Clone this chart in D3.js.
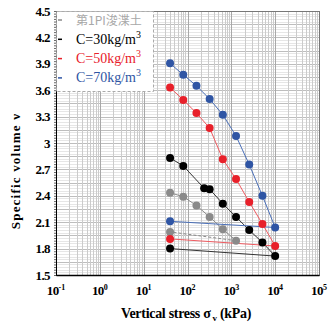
<!DOCTYPE html>
<html><head><meta charset="utf-8">
<script src="https://cdn.jsdelivr.net/npm/d3@7"></script>
<style>body{margin:0;background:#fff}svg{display:block}</style>
</head><body><svg id="c" width="329" height="329"></svg>
<script>
// ---- data ----
const seriesNames = ["第1PI浚渫土", "C=30kg/m", "C=50kg/m", "C=70kg/m"];
const seriesSup = ["", "3", "3", "3"];
const seriesColors = ["#8a8a8a", "#000000", "#e8202a", "#2f55a4"];
const textColors = ["#a8a8a8", "#000000", "#e8202a", "#2f55a4"];
const lineColors = ["#8a8a8a", "#333333", "#ee5a60", "#4a6fb8"];

const grayStress = [40, 80, 160, 320, 640, 1280];
const grayV = [2.435, 2.39, 2.29, 2.16, 2.02, 1.89];
const grayUnloadStress = [1280, 40];
const grayUnloadV = [1.89, 1.99];

const c30Stress = [40, 80, 240, 320, 640, 1280, 2560, 5120, 10000];
const c30V = [2.83, 2.74, 2.485, 2.475, 2.31, 2.16, 2.01, 1.87, 1.715];
const c30UnloadStress = [10000, 40];
const c30UnloadV = [1.715, 1.80];

const c50Stress = [40, 80, 160, 320, 640, 1280, 2560, 5120, 10000];
const c50V = [3.63, 3.49, 3.34, 3.17, 2.815, 2.59, 2.33, 2.08, 1.83];
const c50UnloadStress = [10000, 40];
const c50UnloadV = [1.83, 1.91];

const c70Stress = [40, 80, 160, 320, 640, 1280, 2560, 5120, 10000];
const c70V = [3.905, 3.775, 3.65, 3.50, 3.32, 3.08, 2.755, 2.40, 2.04];
const c70UnloadStress = [10000, 40];
const c70UnloadV = [2.04, 2.11];

const yTicks = [1.5, 1.8, 2.1, 2.4, 2.7, 3, 3.3, 3.6, 3.9, 4.2, 4.5];
const yTickLabels = ["1.5", "1.8", "2.1", "2.4", "2.7", "3", "3.3", "3.6", "3.9", "4.2", "4.5"];
const xTicks = [0.1, 1, 10, 100, 1000, 10000, 100000];
const xTickExps = ["-1", "0", "1", "2", "3", "4", "5"];

const series = [
  {load: grayStress.map((s, i) => [s, grayV[i]]), unload: grayUnloadStress.map((s, i) => [s, grayUnloadV[i]]), dash: "3,2"},
  {load: c30Stress.map((s, i) => [s, c30V[i]]), unload: c30UnloadStress.map((s, i) => [s, c30UnloadV[i]]), dash: null},
  {load: c50Stress.map((s, i) => [s, c50V[i]]), unload: c50UnloadStress.map((s, i) => [s, c50UnloadV[i]]), dash: null},
  {load: c70Stress.map((s, i) => [s, c70V[i]]), unload: c70UnloadStress.map((s, i) => [s, c70UnloadV[i]]), dash: null}
];

// ---- layout ----
const L = 56, R = 319, T = 11, B = 275;
const x = d3.scaleLog().domain([0.1, 1e5]).range([L, R]);
const y = d3.scaleLinear().domain([1.5, 4.5]).range([B, T]);
const svg = d3.select("#c");
const serif = "'Liberation Serif','Times New Roman',serif";

// grid
const g = svg.append("g");
const minorY = d3.range(0, 101).map(i => 1.5 + i * 0.03);
g.selectAll(".hy").data(minorY).join("line")
  .attr("x1", L).attr("x2", R).attr("y1", d => Math.round(y(d)) + 0.5).attr("y2", d => Math.round(y(d)) + 0.5)
  .attr("stroke", (d, i) => i % 5 === 0 ? "#bdbdbd" : "#e6e6e6").attr("stroke-width", 1);
const minorX = [];
for (let e = -1; e < 5; e++) for (let k = 1; k < 10; k++) minorX.push(k * Math.pow(10, e));
minorX.push(1e5);
g.selectAll(".vx").data(minorX).join("line")
  .attr("y1", T).attr("y2", B).attr("x1", d => Math.round(x(d)) + 0.5).attr("x2", d => Math.round(x(d)) + 0.5)
  .attr("stroke", d => Math.abs(Math.log10(d) - Math.round(Math.log10(d))) < 1e-9 ? "#a8a8a8" : "#cbcbcb").attr("stroke-width", 1);

// frame
svg.append("rect").attr("x", L + 0.5).attr("y", T + 0.5).attr("width", R - L).attr("height", B - T)
  .attr("fill", "none").attr("stroke", "#777");

// axes
const yAxis = d3.axisLeft(y).tickValues(minorY).tickSize(2).tickFormat("");
const ya = svg.append("g").attr("transform", `translate(${L},0)`).call(yAxis);
ya.selectAll("line").attr("stroke", "#666");
ya.select(".domain").attr("stroke", "#000");
svg.append("g").selectAll("text").data(yTicks).join("text")
  .attr("x", 50).attr("y", d => y(d) + 4.5).attr("text-anchor", "end")
  .attr("font-family", serif).attr("font-weight", "bold").attr("font-size", 13)
  .attr("letter-spacing", -0.6)
  .text((d, i) => yTickLabels[i]);

const xAxis = d3.axisBottom(x).tickValues(xTicks).tickSize(0).tickFormat("");
const xa = svg.append("g").attr("transform", `translate(0,${B})`).call(xAxis);
xa.select(".domain").attr("stroke", "#000").attr("stroke-width", 1.5);
const xl = svg.append("g").selectAll("text").data(xTicks).join("text")
  .attr("x", d => x(d)).attr("y", 295).attr("text-anchor", "middle")
  .attr("font-family", serif).attr("font-weight", "bold").attr("font-size", 13)
  .attr("letter-spacing", -0.6);
xl.append("tspan").text("10");
xl.append("tspan").attr("dy", -5).attr("font-size", 8).attr("letter-spacing", 0).text((d, i) => xTickExps[i]);

// axis titles
svg.append("text").attr("transform", "translate(20,171) rotate(-90)").attr("text-anchor", "middle")
  .attr("font-family", serif).attr("font-weight", "bold").attr("font-size", 13).attr("letter-spacing", 1.2)
  .text("Specific volume  ν");
const xt = svg.append("text").attr("x", 186).attr("y", 318).attr("text-anchor", "middle")
  .attr("font-family", serif).attr("font-weight", "bold").attr("font-size", 14).attr("letter-spacing", -0.3);
xt.append("tspan").text("Vertical stress  σ");
xt.append("tspan").attr("dy", 3).attr("font-size", 9).text(" v");
xt.append("tspan").attr("dy", -3).text(" (kPa)");

// series
const line = d3.line().x(d => x(d[0])).y(d => y(d[1]));
series.forEach((s, i) => {
  svg.append("path").attr("d", line(s.load)).attr("fill", "none").attr("stroke", lineColors[i]).attr("stroke-width", 1);
  svg.append("path").attr("d", line(s.unload)).attr("fill", "none").attr("stroke", lineColors[i]).attr("stroke-width", 1)
    .attr("stroke-dasharray", s.dash);
});
series.forEach((s, i) => {
  const pts = s.load.concat([s.unload[s.unload.length - 1]]);
  svg.append("g").selectAll("circle").data(pts).join("circle")
    .attr("cx", d => x(d[0])).attr("cy", d => y(d[1])).attr("r", 4).attr("fill", seriesColors[i]);
});

// legend
const lg = svg.append("g");
lg.append("rect").attr("x", L + 0.5).attr("y", T + 0.5).attr("width", 97).attr("height", 80)
  .attr("fill", "#fff").attr("stroke", "#aaa").attr("stroke-dasharray", "3,2");
seriesNames.forEach((n, i) => {
  const yy = 20 + i * 19.3;
  lg.append("line").attr("x1", 58).attr("x2", 62).attr("y1", yy).attr("y2", yy).attr("stroke", seriesColors[i]).attr("stroke-width", 1.5);
  const t = lg.append("text").attr("x", 76).attr("y", yy + 4.5).attr("fill", textColors[i])
    .attr("font-family", i === 0 ? "'Noto Sans CJK JP',serif" : serif).attr("font-size", i === 0 ? 12 : 14);
  t.append("tspan").text(n);
  if (seriesSup[i]) t.append("tspan").attr("dy", -6).attr("font-size", 10).text(seriesSup[i]);
});
</script></body></html>
